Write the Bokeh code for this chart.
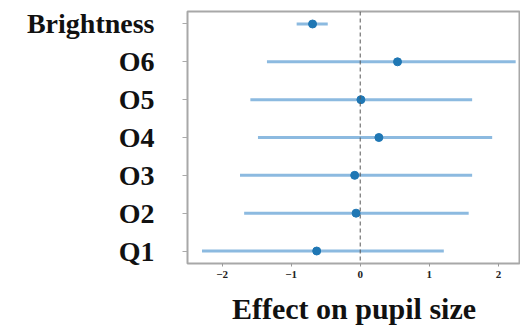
from bokeh.plotting import figure
from bokeh.models import Span, FixedTicker
from bokeh.embed import file_html
from bokeh.resources import INLINE

labels = ["Q1", "O2", "O3", "O4", "O5", "O6", "Brightness"]
effect = [-0.63, -0.06, -0.08, 0.27, 0.01, 0.54, -0.69]
lower = [-2.29, -1.68, -1.74, -1.48, -1.59, -1.35, -0.92]
upper = [1.21, 1.57, 1.62, 1.91, 1.62, 2.25, -0.47]
x_ticks = [-2, -1, 0, 1, 2]

ypos = list(range(len(labels)))

p = figure(width=520, height=327, output_backend="svg", toolbar_location=None,
           x_range=(-2.5, 2.32), y_range=(-0.33, 6.33),
           min_border_left=187, min_border_right=0, min_border_top=11,
           min_border_bottom=0)

p.background_fill_color = "white"
p.border_fill_color = "white"
p.outline_line_color = "#a8a8a8"
p.outline_line_width = 2
p.xgrid.visible = False
p.ygrid.visible = False

p.add_layout(Span(location=0, dimension="height", line_color="#555555",
                  line_dash="4 3", line_width=1))

p.segment(x0=lower, y0=ypos, x1=upper, y1=ypos, line_color="#8cbae0",
          line_width=3)
p.scatter(x=effect, y=ypos, size=8, color="#1f77b4")

p.xaxis.ticker = FixedTicker(ticks=x_ticks)
p.xaxis.axis_label = "Effect on pupil size"
p.xaxis.axis_label_text_font = "Liberation Serif"
p.xaxis.axis_label_text_font_style = "bold"
p.xaxis.axis_label_text_font_size = "30px"
p.xaxis.axis_label_text_color = "#111111"
p.xaxis.axis_label_standoff = 11
p.xaxis.major_label_text_font = "Liberation Serif"
p.xaxis.major_label_text_font_style = "bold"
p.xaxis.major_label_text_font_size = "11px"
p.xaxis.major_label_text_color = "#222222"
p.xaxis.major_label_standoff = 4
p.xaxis.axis_line_color = None
p.xaxis.major_tick_line_color = "#999999"
p.xaxis.major_tick_out = 3
p.xaxis.major_tick_in = 0
p.xaxis.minor_tick_line_color = None

p.yaxis.ticker = FixedTicker(ticks=ypos)
p.yaxis.major_label_overrides = {i: lab for i, lab in enumerate(labels)}
p.yaxis.major_label_text_font = "Liberation Serif"
p.yaxis.major_label_text_font_style = "bold"
p.yaxis.major_label_text_font_size = "28px"
p.yaxis.major_label_text_color = "#111111"
p.yaxis.major_label_standoff = 28
p.yaxis.axis_line_color = None
p.yaxis.major_tick_line_color = "#aaaaaa"
p.yaxis.major_tick_out = 5
p.yaxis.major_tick_in = 0
p.yaxis.minor_tick_line_color = None

open("out.html", "w").write(file_html(p, INLINE))
